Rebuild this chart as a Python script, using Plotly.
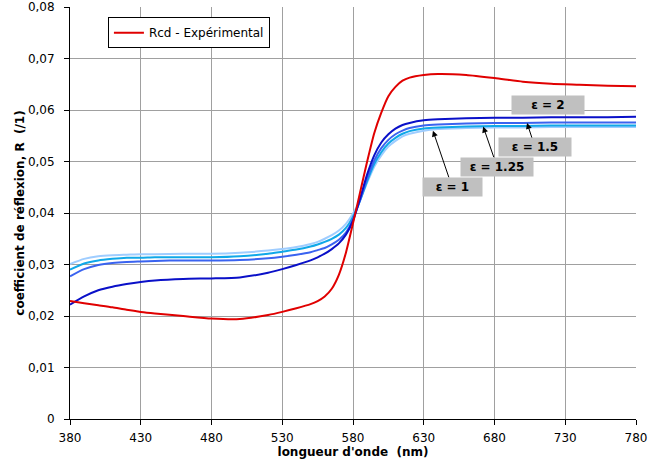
import plotly.graph_objects as go

wavelength = [380, 390, 400, 410, 420, 430, 440, 460, 480, 500, 520, 530, 540, 550, 555, 560, 565,
              570, 575, 580, 585, 590, 595, 600, 605, 610, 615, 620, 630, 640, 660, 680, 700, 720,
              740, 760, 780]

rcd_experimental = [0.0229, 0.0225, 0.0221, 0.0217, 0.0212, 0.0208, 0.0205, 0.0200, 0.0195, 0.0194,
                    0.0202, 0.0208, 0.0215, 0.0223, 0.0229, 0.0238, 0.0253, 0.0280, 0.0323, 0.0380,
                    0.0440, 0.0500, 0.0555, 0.0595, 0.0627, 0.0645, 0.0657, 0.0663, 0.0668, 0.0670,
                    0.0668, 0.0662, 0.0655, 0.0651, 0.0649, 0.0647, 0.0646]

eps_2 = [0.0222, 0.0238, 0.0250, 0.0257, 0.0262, 0.0266, 0.0269, 0.0272, 0.0273, 0.0275, 0.0284,
         0.0291, 0.0299, 0.0308, 0.0314, 0.0321, 0.0330, 0.0341, 0.0358, 0.0385, 0.0428, 0.0475,
         0.0512, 0.0537, 0.0553, 0.0564, 0.0571, 0.0575, 0.0580, 0.0582, 0.0584, 0.0585, 0.0585,
         0.0586, 0.0586, 0.0586, 0.0587]

eps_1_5 = [0.0277, 0.0291, 0.0299, 0.0303, 0.0305, 0.0306, 0.0307, 0.0308, 0.0308, 0.0309, 0.0312,
           0.0315, 0.0319, 0.0324, 0.0328, 0.0332, 0.0339, 0.0348, 0.0362, 0.0388, 0.0425, 0.0467,
           0.0502, 0.0526, 0.0542, 0.0553, 0.0560, 0.0565, 0.0570, 0.0572, 0.0574, 0.0575, 0.0575,
           0.0576, 0.0576, 0.0576, 0.0576]

eps_1_25 = [0.0290, 0.0302, 0.0308, 0.0311, 0.0313, 0.0313, 0.0314, 0.0314, 0.0314, 0.0316, 0.0321,
            0.0325, 0.0329, 0.0335, 0.0339, 0.0344, 0.0350, 0.0358, 0.0371, 0.0393, 0.0424, 0.0462,
            0.0495, 0.0518, 0.0535, 0.0546, 0.0554, 0.0559, 0.0564, 0.0566, 0.0568, 0.0569, 0.0569,
            0.0570, 0.0570, 0.0570, 0.0570]

eps_1 = [0.0301, 0.0311, 0.0316, 0.0318, 0.0319, 0.0320, 0.0320, 0.0321, 0.0321, 0.0323, 0.0327,
         0.0330, 0.0334, 0.0340, 0.0344, 0.0350, 0.0357, 0.0366, 0.0379, 0.0399, 0.0425, 0.0459,
         0.0490, 0.0512, 0.0529, 0.0540, 0.0549, 0.0554, 0.0560, 0.0563, 0.0565, 0.0566, 0.0566,
         0.0567, 0.0567, 0.0567, 0.0567]

y_tick_values = [0, 0.01, 0.02, 0.03, 0.04, 0.05, 0.06, 0.07, 0.08]
y_tick_labels = ["0", "0,01", "0,02", "0,03", "0,04", "0,05", "0,06", "0,07", "0,08"]
x_tick_values = [380, 430, 480, 530, 580, 630, 680, 730, 780]

# annotation labels: (text, box centre x, box centre y, arrow tip x, arrow tip y, box width)
labels = [
    ("ε = 2", 717.8, 0.0610, None, None, 70),
    ("ε = 1.5", 708.6, 0.0528, 703.0, 0.0575, 70),
    ("ε = 1.25", 681.8, 0.0490, 672.0, 0.0568, 70),
    ("ε = 1", 650.0, 0.0451, 636.5, 0.0560, 57),
]

fig = go.Figure()

blue_series = [
    (eps_1, "ε = 1", "#9fcdff"),
    (eps_1_25, "ε = 1.25", "#10a8e8"),
    (eps_1_5, "ε = 1.5", "#3a63f0"),
    (eps_2, "ε = 2", "#0a10c8"),
]
for vals, name, color in blue_series:
    fig.add_trace(go.Scatter(x=wavelength, y=vals, mode="lines", name=name, showlegend=False,
                             line=dict(color=color, width=2, shape="spline", smoothing=0.6)))

fig.add_trace(go.Scatter(x=wavelength, y=rcd_experimental, mode="lines", name="Rcd - Expérimental",
                         line=dict(color="#e00000", width=2, shape="spline", smoothing=0.6)))

for text, bx, by, tx, ty, w in labels:
    if tx is None:
        fig.add_annotation(x=bx, y=by, xref="x", yref="y", text="<b>" + text + "</b>",
                           showarrow=False, bgcolor="#c0c0c0", width=w, height=16,
                           font=dict(family="DejaVu Sans", size=12, color="black"))
    else:
        fig.add_annotation(x=tx, y=ty, xref="x", yref="y", ax=bx, ay=by, axref="x", ayref="y",
                           text="<b>" + text + "</b>", showarrow=True, arrowhead=2, arrowsize=1.2,
                           arrowwidth=1, arrowcolor="black", standoff=0, startstandoff=0,
                           bgcolor="#c0c0c0", width=w, height=16,
                           font=dict(family="DejaVu Sans", size=12, color="black"))

fig.update_layout(
    width=671, height=465,
    margin=dict(l=70, r=35, t=7, b=46),
    paper_bgcolor="white", plot_bgcolor="white",
    font=dict(family="DejaVu Sans", size=12, color="black"),
    showlegend=True,
    legend=dict(x=0.067, y=0.975, xanchor="left", yanchor="top", bgcolor="white",
                bordercolor="black", borderwidth=1, itemwidth=30,
                font=dict(family="DejaVu Sans", size=12)),
    xaxis=dict(range=[380, 780], tickvals=x_tick_values, showgrid=True, gridcolor="#a0a0a0",
               gridwidth=1, showline=True, linecolor="black", linewidth=1, ticks="outside",
               ticklen=5, tickcolor="black", zeroline=False, automargin=False,
               ticklabelstandoff=3, tickfont=dict(size=12),
               title=dict(text="<b>longueur d'onde  (nm)</b>", standoff=3,
                          font=dict(family="DejaVu Sans", size=12))),
    yaxis=dict(range=[0, 0.08001], tickvals=y_tick_values, ticktext=y_tick_labels, showgrid=True,
               gridcolor="#a0a0a0", gridwidth=1, showline=True, linecolor="black", linewidth=1,
               ticks="outside", ticklen=5, tickcolor="black", zeroline=False, automargin=False,
               ticklabelstandoff=7, ticklabeloverflow="allow", tickfont=dict(size=12),
               title=dict(text="<b>coefficient de réflexion, R  (/1)</b>", standoff=0,
                          font=dict(family="DejaVu Sans", size=12))),
)

fig.write_html("out.html", config={"displayModeBar": False},
               post_script="document.body.style.margin='0px';")
